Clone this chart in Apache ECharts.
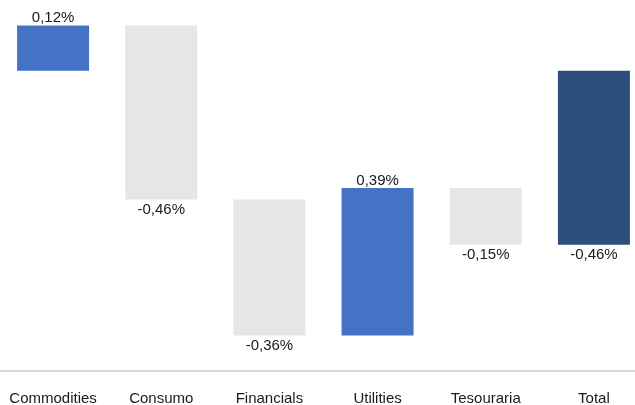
<!DOCTYPE html>
<html>
<head>
<meta charset="utf-8">
<script src="https://cdn.jsdelivr.net/npm/echarts@6/dist/echarts.min.js"></script>
<style>
    html, body { margin: 0; padding: 0; background: #ffffff; overflow: hidden; }
    #chart { width: 635px; height: 405px; }
</style>
</head>
<body>
<div id="chart"></div>
<script>
    // contribuição por setor (%)
    const categories = ['Commodities', 'Consumo', 'Financials', 'Utilities', 'Tesouraria', 'Total'];
    const changes = [0.12, -0.46, -0.36, 0.39, -0.15, -0.46];
    const isTotal = [false, false, false, false, false, true];

    const colorUp = '#4472c4';
    const colorDown = '#e6e6e6';
    const colorTotal = '#2e4e7e';

    // base invisível do waterfall
    let running = 0;
    const bases = [];
    changes.forEach(function (v, i) {
        if (isTotal[i]) {
            bases.push(0);
        } else {
            bases.push(running);
            running += v;
        }
    });

    function fmt(v) {
        return v.toFixed(2).replace('.', ',') + '%';
    }

    const visible = changes.map(function (v, i) {
        return {
            value: v,
            itemStyle: { color: isTotal[i] ? colorTotal : (v >= 0 ? colorUp : colorDown) },
            label: v >= 0 ? { position: 'top', distance: 0 } : { position: 'bottom', distance: 3 }
        };
    });

    const chart = echarts.init(document.getElementById('chart'));
    chart.setOption({
        animation: false,
        grid: {
            left: -1, width: 649, top: 25.5, bottom: 34,
            containLabel: false,
            outerBoundsMode: 'none'
        },
        xAxis: {
            type: 'category',
            data: categories,
            position: 'bottom',
            axisLine: { show: true, onZero: false, lineStyle: { color: '#d9d9d9', width: 2 } },
            axisTick: { show: false },
            axisLabel: {
                interval: 0,
                margin: 20,
                fontFamily: 'Liberation Sans, Arial, sans-serif',
                fontSize: 15,
                color: '#1a1a1a'
            }
        },
        yAxis: {
            type: 'value',
            min: -0.794,
            max: 0.12,
            show: false,
            splitLine: { show: false }
        },
        series: [
            {
                type: 'bar',
                stack: 'wf',
                stackStrategy: 'all',
                barWidth: 72,
                itemStyle: { color: 'transparent' },
                emphasis: { disabled: true },
                data: bases
            },
            {
                type: 'bar',
                stack: 'wf',
                stackStrategy: 'all',
                barWidth: 72,
                label: {
                    show: true,
                    fontFamily: 'Liberation Sans, Arial, sans-serif',
                    fontSize: 15,
                    color: '#1a1a1a',
                    formatter: function (p) { return fmt(p.value); }
                },
                data: visible
            }
        ]
    });
</script>
</body>
</html>
